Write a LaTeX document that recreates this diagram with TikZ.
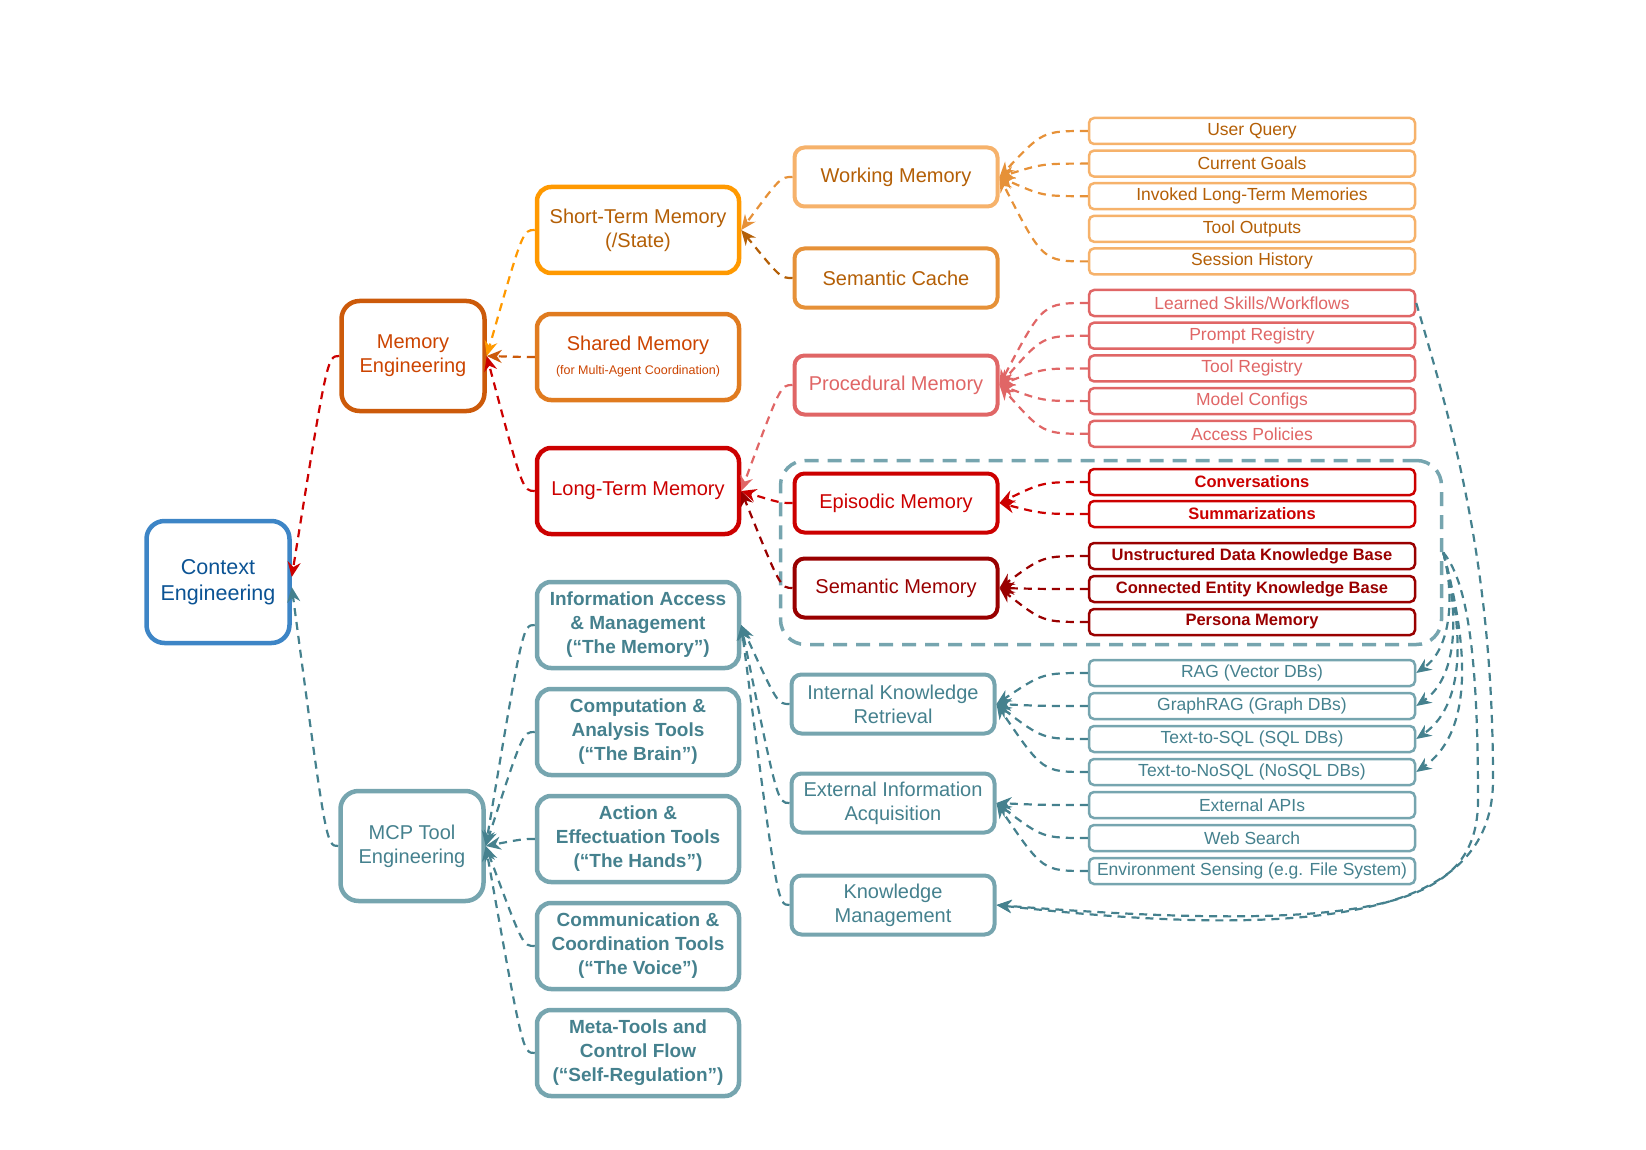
\documentclass[tikz,border=0pt]{standalone}
\usepackage{fontspec}
\setmainfont{Liberation Sans}
\usetikzlibrary{arrows.meta,positioning}

\definecolor{ctxline}{HTML}{3D85C6}
\definecolor{ctxtext}{HTML}{0B5394}
\definecolor{memline}{HTML}{CC5A0A}
\definecolor{memtext}{HTML}{CC4400}
\definecolor{stmline}{HTML}{FF9900}
\definecolor{ochre}{HTML}{B45F06}
\definecolor{sharedline}{HTML}{E07B1F}
\definecolor{ltmred}{HTML}{CC0000}
\definecolor{workline}{HTML}{F6B26B}
\definecolor{cacheline}{HTML}{E69138}
\definecolor{procred}{HTML}{E06666}
\definecolor{semred}{HTML}{990000}
\definecolor{tealline}{HTML}{76A5AF}
\definecolor{tealtext}{HTML}{45818E}

\begin{document}
\begin{tikzpicture}[x=1pt,y=1pt,
  box/.style={draw, fill=white, align=center, inner sep=0pt, line width=4.5pt, rounded corners=14pt, font=\fontsize{20}{24}\selectfont},
  topbox/.style={box, minimum width=143pt, minimum height=110pt, rounded corners=18pt},
  midbox/.style={box, minimum width=202pt, minimum height=86pt},
  subbox/.style={box, minimum width=203pt, minimum height=59pt, line width=4pt, rounded corners=10pt},
  toolbox/.style={midbox, draw=tealline, text=tealtext, font=\fontsize{19}{24}\selectfont\bfseries},
  leafbox/.style={draw, fill=white, inner sep=0pt, line width=2.5pt, rounded corners=5pt, minimum width=326pt, minimum height=26pt, font=\fontsize{17.5}{20}\selectfont},
  grpbox/.style={draw=tealline, line width=3.5pt, dash pattern=on 14pt off 9pt, rounded corners=25pt, minimum width=661pt, minimum height=184pt},
  link/.style={line width=2.2pt, dash pattern=on 8pt off 6pt, -{Stealth[length=15pt,width=13pt]}},
]
\useasboundingbox (0,0) rectangle (1646,-1150);

% memory group frame
\node[grpbox] (grp) at (1111,-552.5) {};

% top level
\node[topbox, minimum height=122pt, draw=ctxline, text=ctxtext, font=\fontsize{21.5}{26}\selectfont] (ctx) at (218,-582) {Context\\Engineering};
\node[topbox, draw=memline, text=memtext] (mem) at (413,-356) {Memory\\Engineering};
\node[topbox, draw=tealline, text=tealtext] (mcp) at (412,-846) {MCP Tool\\Engineering};

% memory branch
\node[midbox, draw=stmline, text=ochre] (stm) at (638,-230) {Short-Term Memory\\(/State)};
\node[midbox, draw=sharedline, text=memtext] (shm) at (638,-357) {Shared Memory\\{\fontsize{12.5}{16}\selectfont (for Multi-Agent Coordination)}};
\node[midbox, draw=ltmred, text=ltmred] (ltm) at (638,-491) {Long-Term Memory};

% tool branch
\node[toolbox] (info) at (638,-625) {Information Access\\\& Management\\(“The Memory”)};
\node[toolbox] (comp) at (638,-732) {Computation \&\\Analysis Tools\\(“The Brain”)};
\node[toolbox] (act) at (638,-839) {Action \&\\Effectuation Tools\\(“The Hands”)};
\node[toolbox] (comm) at (638,-946) {Communication \&\\Coordination Tools\\(“The Voice”)};
\node[toolbox] (meta) at (638,-1053) {Meta-Tools and\\Control Flow\\(“Self-Regulation”)};

% third level
\node[subbox, draw=workline, text=ochre] (work) at (896,-177) {Working Memory};
\node[subbox, draw=cacheline, text=ochre] (cache) at (896,-278) {Semantic Cache};
\node[subbox, draw=procred, text=procred] (proc) at (896,-385) {Procedural Memory};
\node[subbox, draw=ltmred, text=ltmred] (epi) at (896,-503) {Episodic Memory};
\node[subbox, draw=semred, text=semred] (sem) at (896,-588) {Semantic Memory};
\node[subbox, draw=tealline, text=tealtext] (ikr) at (893,-704) {Internal Knowledge\\Retrieval};
\node[subbox, draw=tealline, text=tealtext] (eia) at (893,-803) {External Information\\Acquisition};
\node[subbox, draw=tealline, text=tealtext] (km) at (893,-905) {Knowledge\\Management};

% leaves
\foreach \t [count=\n] in {User Query, Current Goals, Invoked Long-Term Memories, Tool Outputs, Session History}
  \node[leafbox, draw=workline, text=ochre] (W\n) at (1252,-98.4-32.6*\n) {\t};
\foreach \t [count=\n] in {Learned Skills/Workflows, Prompt Registry, Tool Registry, Model Configs, Access Policies}
  \node[leafbox, draw=procred, text=procred] (P\n) at (1252,-270.3-32.7*\n) {\t};
\foreach \t [count=\n] in {Conversations, Summarizations}
  \node[leafbox, draw=ltmred, text=ltmred, font=\fontsize{16.5}{20}\selectfont\bfseries] (E\n) at (1252,-450-32*\n) {\t};
\foreach \t [count=\n] in {Unstructured Data Knowledge Base, Connected Entity Knowledge Base, Persona Memory}
  \node[leafbox, draw=semred, text=semred, font=\fontsize{16.5}{20}\selectfont\bfseries] (S\n) at (1252,-523-33*\n) {\t};
\foreach \t [count=\n] in {RAG (Vector DBs), GraphRAG (Graph DBs), Text-to-SQL (SQL DBs), Text-to-NoSQL (NoSQL DBs), External APIs, Web Search, Environment Sensing (e.g. File System)}
  \node[leafbox, draw=tealline, text=tealtext] (R\n) at (1252,-640-33*\n) {\t};

% tree connectors
\draw[link, ltmred] (mem.west) .. controls +(-12,0) .. ([yshift=5pt]ctx.east);
\draw[link, tealtext] (mcp.west) .. controls +(-12,0) .. ([yshift=-5pt]ctx.east);
\draw[link, stmline] (stm.west) .. controls +(-12,0) .. (mem.east);
\draw[link, memline] (shm.west) .. controls +(-12,0) .. (mem.east);
\draw[link, ltmred] (ltm.west) .. controls +(-12,0) .. (mem.east);
\foreach \c in {info,comp,act,comm,meta}
  \draw[link, tealtext] (\c.west) .. controls +(-12,0) .. (mcp.east);
\draw[link, cacheline] (work.west) .. controls +(-12,0) .. (stm.east);
\draw[link, ochre] (cache.west) .. controls +(-12,0) .. (stm.east);
\draw[link, procred] (proc.west) .. controls +(-12,0) .. (ltm.east);
\draw[link, ltmred] (epi.west) .. controls +(-12,0) .. (ltm.east);
\draw[link, semred] (sem.west) .. controls +(-12,0) .. (ltm.east);
\foreach \c in {ikr,eia,km}
  \draw[link, tealtext] (\c.west) .. controls +(-12,0) .. (info.east);

% leaf fans
\foreach \n in {1,2,3,5}
  \draw[link, cacheline] (W\n.west) .. controls +(-45,0) .. (work.east);
\foreach \n in {1,...,5}
  \draw[link, procred] (P\n.west) .. controls +(-45,0) .. (proc.east);
\foreach \n in {1,2}
  \draw[link, ltmred] (E\n.west) .. controls +(-45,0) .. (epi.east);
\foreach \n in {1,2,3}
  \draw[link, semred] (S\n.west) .. controls +(-45,0) .. (sem.east);
\foreach \n in {1,...,4}
  \draw[link, tealtext] (R\n.west) .. controls +(-45,0) .. (ikr.east);
\foreach \n in {5,6,7}
  \draw[link, tealtext] (R\n.west) .. controls +(-45,0) .. (eia.east);

% right-hand returns
\foreach \n in {1,...,4}
  \draw[link, tealtext] (grp.east) to[out=-75,in=35,looseness=0.9] (R\n.east);
\draw[link, tealtext] (P1.east) .. controls +(35,-120) and (1493,-560) .. (1493,-780)
  .. controls (1493,-905) and (1350,-945) .. (km.east);
\draw[link, tealtext] (grp.east) .. controls +(25,-30) and (1478,-660) .. (1478,-800)
  .. controls (1478,-905) and (1380,-935) .. (km.east);
\end{tikzpicture}
\end{document}
